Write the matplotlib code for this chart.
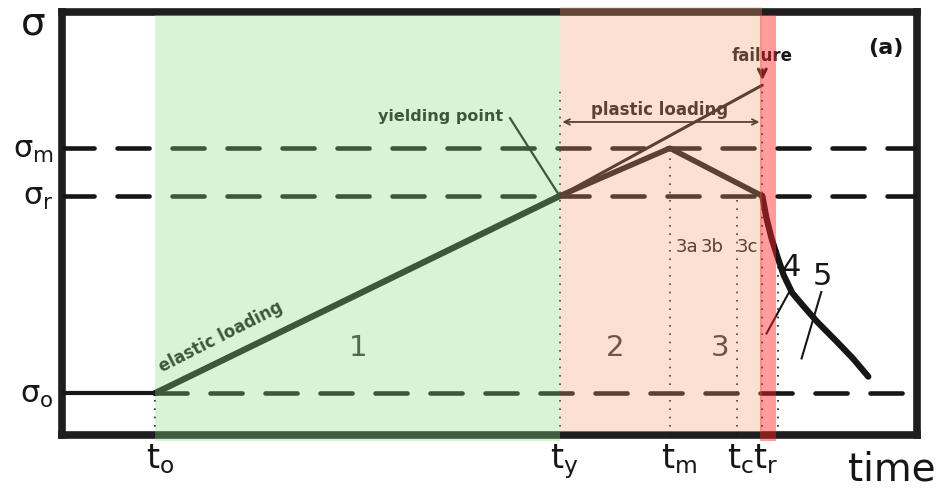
import matplotlib
matplotlib.use('Agg')
import matplotlib.pyplot as plt

plt.rcParams['font.family'] = ['DejaVu Sans']
plt.rcParams['mathtext.default'] = 'regular'

# characteristic times (arbitrary units, axis runs 0..100)
t_marks = [10.9, 58.2, 71.1, 78.9, 81.9]
t_names = ['o', 'y', 'm', 'c', 'r']
t_end4 = 83.7

# stress levels (arbitrary units, axis runs 0..100)
sig_levels = [9.9, 56.5, 67.8]
sig_names = ['o', 'r', 'm']
sig_fail = 82.7

# stress path
pre_t = [0, 10.9]
pre_s = [9.9, 9.9]
elastic_t = [10.9, 58.2]
elastic_s = [9.9, 56.5]
plastic_t = [58.2, 71.1, 81.9]
plastic_s = [56.5, 67.8, 56.5]
fail_t = [58.2, 81.9]
fail_s = [56.5, 82.7]
post_t = [81.9, 82.4, 83.0, 83.6, 84.4, 85.4, 86.7, 88.3, 90.6, 92.5, 94.3]
post_s = [56.5, 51.2, 46.4, 42.6, 37.8, 33.6, 30.5, 26.8, 22.1, 18.1, 13.8]

K = '#161616'

fig = plt.figure(figsize=(9.45, 4.92), dpi=100)
ax = fig.add_axes([0.0656, 0.1159, 0.9048, 0.8597])
ax.set_xlim(0, 100)
ax.set_ylim(0, 100)
ax.set_xticks([])
ax.set_yticks([])
for sp in ax.spines.values():
    sp.set_linewidth(5.5)
    sp.set_color('#1e1e1e')

# dashed stress levels
ax.plot([0, 100], [sig_levels[2]] * 2, color=K, lw=3.3, dashes=(7, 5),
        dash_capstyle='round', zorder=3)
ax.plot([0, 100], [sig_levels[1]] * 2, color=K, lw=3.3, dashes=(7, 5),
        dash_capstyle='round', zorder=3)
ax.plot([t_marks[0], 100], [sig_levels[0]] * 2, color=K, lw=3.3, dashes=(7, 5),
        dash_capstyle='round', zorder=3)

# dotted time markers
dot_tops = [sig_levels[0], 82.3, sig_levels[2], sig_levels[1], sig_fail]
for t, top in zip(t_marks, dot_tops):
    ax.plot([t, t], [0, top], color=K, lw=1.2, ls=(0, (1, 4)), zorder=3)
ax.plot([t_end4, t_end4], [0, 44.9], color=K, lw=1.2, ls=(0, (1, 4)), zorder=3)

# stress path
ax.plot(pre_t, pre_s, color=K, lw=3, solid_capstyle='butt', zorder=4)
ax.plot(elastic_t, elastic_s, color=K, lw=4.5, solid_capstyle='round', zorder=4)
ax.plot(plastic_t, plastic_s, color=K, lw=4, solid_capstyle='round', zorder=4)
ax.plot(fail_t, fail_s, color=K, lw=2.2, solid_capstyle='round', zorder=4)
ax.plot(post_t, post_s, color=K, lw=4.5, solid_capstyle='round',
        solid_joinstyle='round', zorder=4)

# annotations
ax.text(44.3, 75.4, 'yielding point', fontsize=11.5, fontweight='bold',
        color=K, ha='center', va='center', zorder=5)
ax.plot([52.4, 58.2], [74.9, 56.5], color=K, lw=1.6, zorder=5)
ax.text(18.6, 23.2, 'elastic loading', fontsize=12, fontweight='bold',
        color=K, ha='center', va='center', rotation=27, zorder=5)
ax.annotate('', xy=(t_marks[4], 74.0), xytext=(t_marks[1], 74.0),
            arrowprops=dict(arrowstyle='<->', color=K, lw=1.3), zorder=5)
ax.text(69.9, 76.8, 'plastic loading', fontsize=12, fontweight='bold',
        color=K, ha='center', va='center', zorder=5)
ax.text(81.9, 89.6, 'failure', fontsize=12, fontweight='bold',
        color=K, ha='center', va='center', zorder=5)
ax.annotate('', xy=(81.9, sig_fail + 0.5), xytext=(81.9, 87.0),
            arrowprops=dict(arrowstyle='->', color=K, lw=2.2,
                            mutation_scale=14), zorder=5)
ax.text(96.4, 91.5, '(a)', fontsize=16, fontweight='bold', color=K,
        ha='center', va='center', zorder=5)

phase_x = [34.6, 64.7, 77.0]
for i, x in enumerate(phase_x):
    ax.text(x, 20.6, str(i + 1), fontsize=21, color='#333333',
            ha='center', va='center', zorder=5)
for x, s in zip([73.1, 76.0, 80.2], ['3a', '3b', '3c']):
    ax.text(x, 44.4, s, fontsize=13, color=K, ha='center', va='center', zorder=5)
ax.text(85.3, 39.5, '4', fontsize=22, color=K, ha='center', va='center', zorder=5)
ax.text(88.9, 37.4, '5', fontsize=22, color=K, ha='center', va='center', zorder=5)
ax.plot([82.4, 85.1], [24.0, 34.0], color=K, lw=1.5, zorder=5)
ax.plot([86.5, 88.8], [18.1, 33.8], color=K, lw=1.5, zorder=5)

# phase shading, drawn over everything so it tints the lines too
ax.axvspan(t_marks[0], t_marks[1], ymin=-0.014, ymax=0.993,
           color=(0.53, 0.88, 0.52), alpha=0.33, lw=0, zorder=10, clip_on=False)
ax.axvspan(t_marks[1], t_marks[4], ymin=0.008, ymax=1.012,
           color=(0.97, 0.63, 0.43), alpha=0.31, lw=0, zorder=10, clip_on=False)
ax.axvspan(81.6, 83.5, ymin=-0.014, ymax=0.993,
           color=(1.0, 0.15, 0.15), alpha=0.45, lw=0, zorder=11, clip_on=False)

# axis labels
ax.text(-3.4, 97.2, r'$\sigma$', fontsize=28, color=K, ha='center',
        va='center', clip_on=False)
for s, n in zip(sig_levels, sig_names):
    ax.text(-1.0, s - 2.2, r'$\sigma_%s$' % n, fontsize=22, color=K,
            ha='right', va='baseline', clip_on=False)
for t, n in zip(t_marks, t_names):
    ax.text(t - 1.1, -7.8, r'$t_%s$' % n, fontsize=24, color=K,
            ha='left', va='baseline', clip_on=False)
ax.text(97.0, -8.2, 'time', fontsize=28, color=K, ha='center',
        va='center', clip_on=False)

fig.savefig('out.png', dpi=100)
